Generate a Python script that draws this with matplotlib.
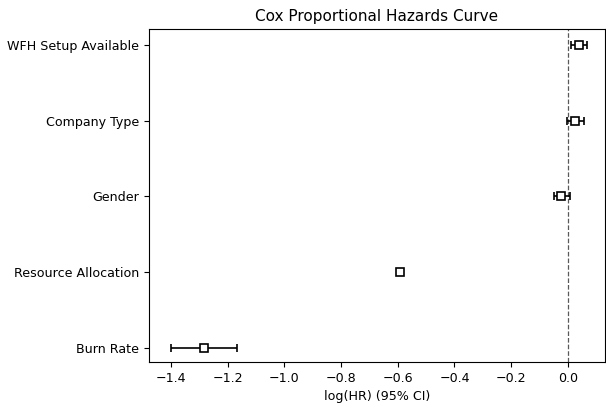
import numpy as np
import matplotlib.pyplot as plt

# covariates, bottom to top
labels = ["Burn Rate", "Resource Allocation", "Gender", "Company Type", "WFH Setup Available"]
coef = [-1.283, -0.592, -0.026, 0.025, 0.039]
ci_lower = [-1.401, -0.597, -0.049, -0.005, 0.010]
ci_upper = [-1.167, -0.587, 0.007, 0.056, 0.069]

plt.rcParams["font.size"] = 9.1

coef = np.array(coef)
err = np.array([coef - np.array(ci_lower), np.array(ci_upper) - coef])
y = np.arange(len(labels))

fig = plt.figure(figsize=(6.06, 4.05), dpi=100)
ax = fig.add_axes([0.246, 0.106, 0.752, 0.822])

ax.errorbar(coef, y, xerr=err, fmt="s", color="k", markerfacecolor="white",
            markersize=6, markeredgewidth=1.2, capsize=2.8, elinewidth=1.2)
ax.axvline(0, color="k", linestyle="--", linewidth=0.9, alpha=0.65)

ax.set_yticks(y)
ax.set_yticklabels(labels)
ax.set_ylim(-0.19, 4.21)
ax.set_xlim(-1.477, 0.13)
ax.set_xticks(np.arange(-1.4, 0.01, 0.2))
ax.set_xlabel("log(HR) (95% CI)")
ax.set_title("Cox Proportional Hazards Curve", fontsize=11)

plt.savefig("out.png", dpi=100)
